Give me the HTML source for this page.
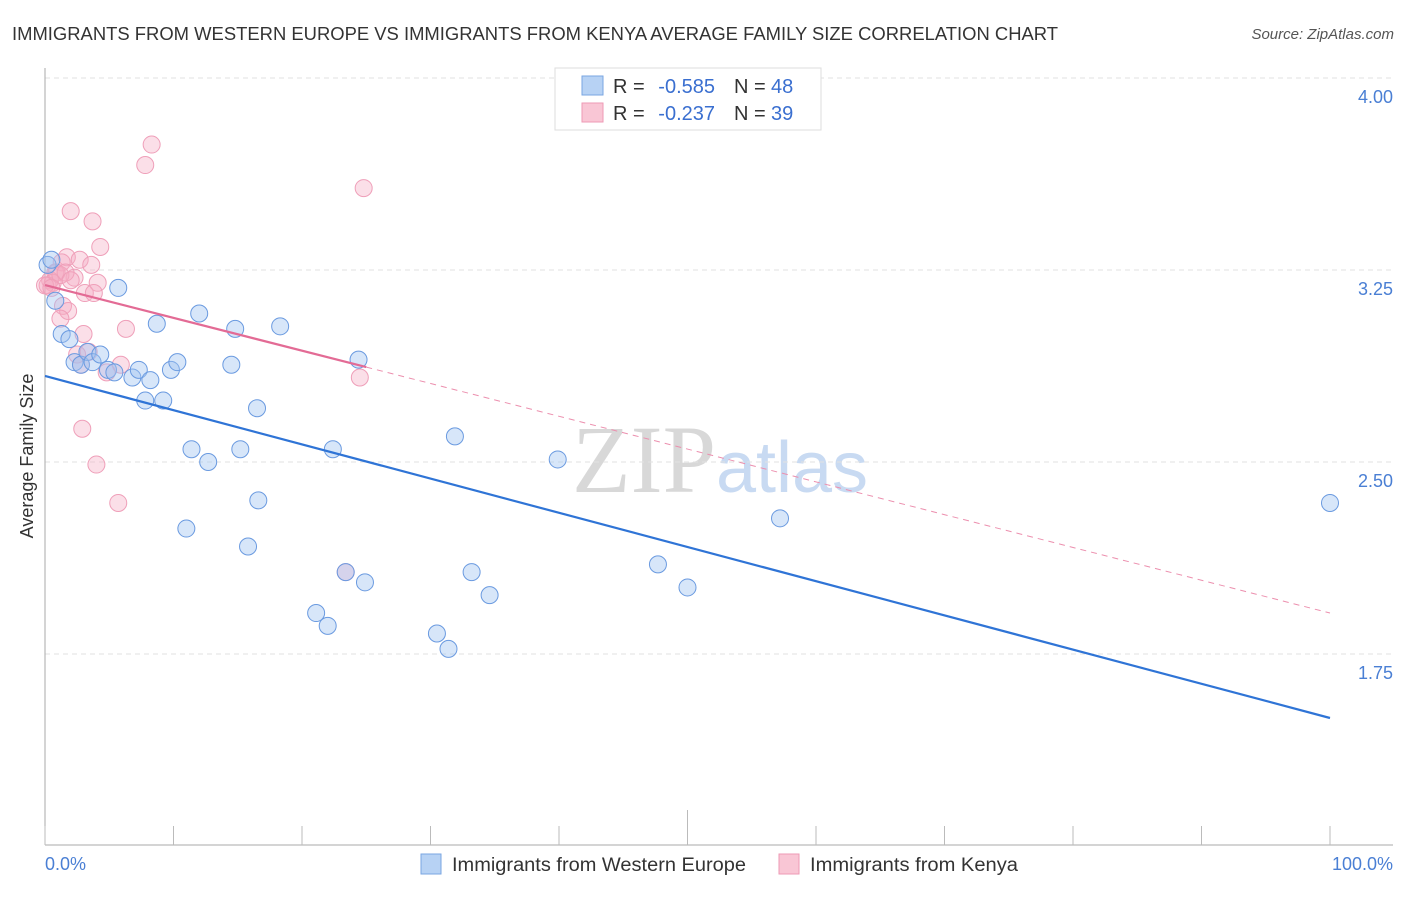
<!DOCTYPE html>
<html><head><meta charset="utf-8"><style>
body{margin:0;background:#fff;font-family:"Liberation Sans",sans-serif}
svg text{font-family:"Liberation Sans",sans-serif}
</style></head><body>
<svg id="chart" width="1406" height="892" xmlns="http://www.w3.org/2000/svg">
<text x="12" y="40" font-size="18" fill="#333" textLength="1046" lengthAdjust="spacingAndGlyphs">IMMIGRANTS FROM WESTERN EUROPE VS IMMIGRANTS FROM KENYA AVERAGE FAMILY SIZE CORRELATION CHART</text>
<text x="1394" y="39" font-size="15" fill="#555" font-style="italic" text-anchor="end">Source: ZipAtlas.com</text>
<text x="720" y="492" font-size="96" text-anchor="middle"><tspan fill="#d8d8d8" font-family="Liberation Serif">ZIP</tspan><tspan fill="#c8daf2" font-size="72">atlas</tspan></text>
<g id="grid"></g>
<g id="axes"></g>
<g id="marks"></g>
<text transform="translate(33,456) rotate(-90)" font-size="18" fill="#333" text-anchor="middle">Average Family Size</text>
<g>
<rect x="555" y="68" width="266" height="62" fill="#fff" stroke="#ddd"/>
<rect x="582" y="76" width="21" height="19" fill="#b7d2f4" stroke="#7aa6e2"/>
<rect x="582" y="103" width="21" height="19" fill="#f9c6d5" stroke="#ee9ab5"/>
<text x="613" y="93" font-size="20" fill="#333">R =</text>
<text x="715" y="93" font-size="20" fill="#3a6fd0" text-anchor="end">-0.585</text>
<text x="734" y="93" font-size="20" fill="#333">N =</text>
<text x="771" y="93" font-size="20" fill="#3a6fd0">48</text>
<text x="613" y="120" font-size="20" fill="#333">R =</text>
<text x="715" y="120" font-size="20" fill="#3a6fd0" text-anchor="end">-0.237</text>
<text x="734" y="120" font-size="20" fill="#333">N =</text>
<text x="771" y="120" font-size="20" fill="#3a6fd0">39</text>
</g>
<text x="45" y="870" font-size="18" fill="#4a7fd4">0.0%</text>
<text x="1393" y="870" font-size="18" fill="#4a7fd4" text-anchor="end">100.0%</text>
<g>
<rect x="421" y="854" width="20" height="20" fill="#b7d2f4" stroke="#7aa6e2"/>
<text x="452" y="871" font-size="19" fill="#333" textLength="294" lengthAdjust="spacingAndGlyphs">Immigrants from Western Europe</text>
<rect x="779" y="854" width="20" height="20" fill="#f9c6d5" stroke="#ee9ab5"/>
<text x="810" y="871" font-size="19" fill="#333" textLength="208" lengthAdjust="spacingAndGlyphs">Immigrants from Kenya</text>
</g>
</svg>
<script>
const yTicks=[1.75,2.5,3.25,4.0];
const yTickLabels=["1.75","2.50","3.25","4.00"];
const blueX=[0.2,0.5,0.8,1.3,1.9,2.3,2.8,3.3,3.7,4.3,4.9,5.4,5.7,6.8,7.3,7.8,8.2,8.7,9.2,9.8,10.3,11.0,11.4,12.0,12.7,14.5,14.8,15.2,15.8,16.5,16.6,18.3,21.1,22.0,22.4,23.4,24.4,24.9,30.5,31.4,31.9,33.2,34.6,39.9,47.7,50.0,57.2,100];
const blueY=[3.27,3.29,3.13,3.0,2.98,2.89,2.88,2.93,2.89,2.92,2.86,2.85,3.18,2.83,2.86,2.74,2.82,3.04,2.74,2.86,2.89,2.24,2.55,3.08,2.5,2.88,3.02,2.55,2.17,2.71,2.35,3.03,1.91,1.86,2.55,2.07,2.9,2.03,1.83,1.77,2.6,2.07,1.98,2.51,2.1,2.01,2.28,2.34];
const pinkX=[8.3,7.8,24.8,2.0,3.7,4.3,1.7,2.7,1.3,3.6,0.8,0.9,2.3,0.4,0.2,4.1,3.1,3.8,1.4,1.8,1.2,6.3,3.0,2.5,5.9,2.8,24.5,2.9,4.0,5.7,23.4,0.6,1.2,1.6,0.0,0.5,2.0,3.4,4.8];
const pinkY=[3.74,3.66,3.57,3.48,3.44,3.34,3.3,3.29,3.28,3.27,3.24,3.24,3.22,3.21,3.19,3.2,3.16,3.16,3.11,3.09,3.06,3.02,3.0,2.92,2.88,2.88,2.83,2.63,2.49,2.34,2.07,3.2,3.23,3.24,3.19,3.18,3.21,2.93,2.85];
const blueTrend=[2.836,1.5];
const pinkTrend=[3.191,1.91];
const pinkSolidEnd=25;
const NS="http://www.w3.org/2000/svg";
const X=v=>45+v*12.85, Y=v=>78+(4-v)*256;
function mk(t,a,p){const e=document.createElementNS(NS,t);for(const k in a)e.setAttribute(k,a[k]);p.appendChild(e);return e;}
const grid=document.getElementById('grid'),axes=document.getElementById('axes'),marks=document.getElementById('marks');
yTicks.forEach((v,i)=>{
 const l=mk('line',{x1:45,x2:1393,y1:Y(v),y2:Y(v),stroke:'#e2e2e2','stroke-dasharray':'5,4'},grid);
 
 
 const t=mk('text',{x:1393,y:Y(v)+25,'font-size':18,fill:'#4a7fd4','text-anchor':'end'},axes);
 t.textContent=yTickLabels[i];
 
 
});
let a=mk('line',{x1:45,x2:45,y1:68,y2:845,stroke:'#aaa'},axes);


a=mk('line',{x1:45,x2:1393,y1:845,y2:845,stroke:'#aaa'},axes);


for(let i=0;i<=10;i++){
 const tk=mk('line',{x1:X(i*10),x2:X(i*10),y1:(i==5?810:826),y2:845,stroke:'#bbb'},axes);
 
 
}
function dots(xs,ys,fill,stroke,name){
 xs.forEach((x,i)=>{const c=mk('circle',{cx:X(x),cy:Y(ys[i]),r:8.5,fill:fill,stroke:stroke,'stroke-width':1},marks);
 
 });
}
dots(pinkX,pinkY,'rgba(245,170,195,0.38)','#ef9fb9','kenya-point');
dots(blueX,blueY,'rgba(160,196,240,0.42)','#6a9ae0','western-europe-point');
let ln=mk('line',{x1:X(0),y1:Y(blueTrend[0]),x2:X(100),y2:Y(blueTrend[1]),stroke:'#2f74d6','stroke-width':2.2},marks);


const pAt=x=>pinkTrend[0]+(pinkTrend[1]-pinkTrend[0])*x/100;
ln=mk('line',{x1:X(0),y1:Y(pAt(0)),x2:X(pinkSolidEnd),y2:Y(pAt(pinkSolidEnd)),stroke:'#e36b95','stroke-width':2.2},marks);


ln=mk('line',{x1:X(pinkSolidEnd),y1:Y(pAt(pinkSolidEnd)),x2:X(100),y2:Y(pAt(100)),stroke:'#ec8fae','stroke-width':1,'stroke-dasharray':'6,5'},marks);


</script>
</body></html>
